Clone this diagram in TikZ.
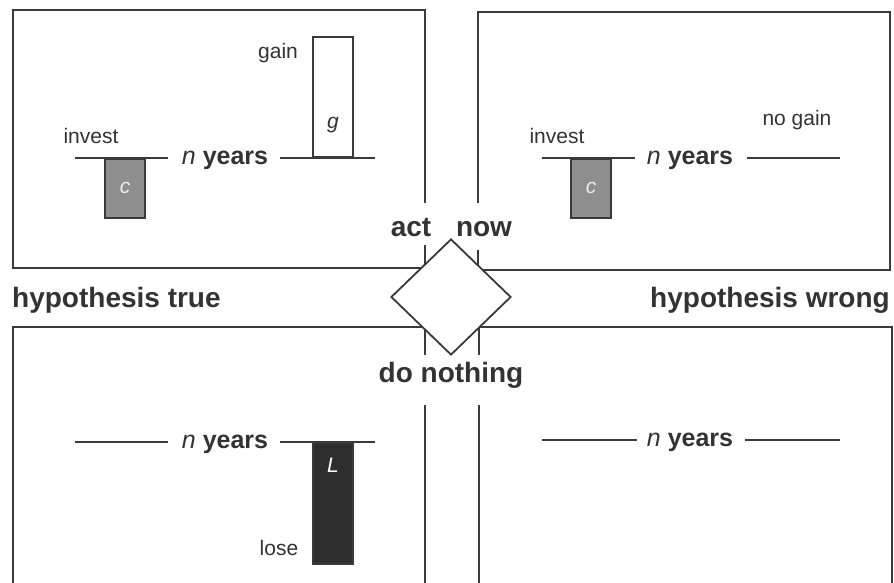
\documentclass[tikz,border=0pt]{standalone}
\usepackage{fontspec}
\setmainfont{Liberation Sans}
\usetikzlibrary{shapes.geometric}
\definecolor{linegray}{HTML}{3A3A3A}
\definecolor{textgray}{HTML}{333333}
\definecolor{barmid}{HTML}{8E8E8E}
\definecolor{bardark}{HTML}{2E2E2E}
\begin{document}
\begin{tikzpicture}[x=1pt,y=-1pt,
  ln/.style={draw=linegray,line width=1.8pt},
  big/.style={font=\fontsize{28}{32}\selectfont\bfseries, text=textgray, inner sep=0pt, anchor=base},
  yrs/.style={font=\fontsize{25}{30}\selectfont, text=textgray, inner sep=0pt, anchor=base},
  small/.style={font=\fontsize{21}{25}\selectfont, text=textgray, inner sep=0pt, anchor=base},
  barlabel/.style={font=\fontsize{21}{25}\selectfont\itshape, inner sep=0pt, anchor=base},
  bar/.style={draw=linegray, line width=1.8pt, minimum width=40pt, inner sep=0pt},
]
\useasboundingbox (0,0) rectangle (894,582);
\clip (0,0) rectangle (894,582);

% panels
\draw[ln] (425,203) -- (425,10) -- (13,10) -- (13,268) -- (425,268) -- (425,245);
\draw[ln] (478,203) -- (478,12) -- (890,12) -- (890,270) -- (478,270) -- (478,250);
\draw[ln] (425,355) -- (425,327) -- (13,327) -- (13,600);
\draw[ln] (425,405) -- (425,600);
\draw[ln] (479,355) -- (479,327) -- (892,327) -- (892,600);
\draw[ln] (479,405) -- (479,600);

% decision diamond
\node[diamond, draw=linegray, line width=1.8pt, fill=white, aspect=1,
      minimum width=120pt, minimum height=116pt, inner sep=0pt] (dec) at (451,297) {};
\node[big] (act) at (411,236) {act};
\node[big] (now) at (484,236) {now};
\node[big] (donothing) at (451,382) {do nothing};
\node[big, anchor=base west] (htrue) at (12,307) {hypothesis true};
\node[big, anchor=base east] (hwrong) at (890,307) {hypothesis wrong};

% top-left panel
\coordinate (tlA) at (75,158); \coordinate (tlB) at (168,158);
\coordinate (tlC) at (280,158); \coordinate (tlD) at (375,158);
\draw[ln] (tlA) -- (tlB);
\draw[ln] (tlC) -- (tlD);
\node[yrs] (tly) at (225,164) {\textit{n} \textbf{years}};
\node[bar, fill=barmid, minimum height=59pt, anchor=north,
      font=\fontsize{21}{25}\selectfont\itshape, text=white!85!gray] (tlc) at (125,158) {c};
\node[small] (tlinv) at (91,143) {invest};
\node[bar, fill=white, minimum height=120pt, anchor=south] (tlg) at (333,158) {};
\node[barlabel, text=textgray] (tlgl) at (333,128) {g};
\node[small] (tlgain) at (278,58) {gain};

% top-right panel
\coordinate (trA) at (542,158); \coordinate (trB) at (635,158);
\coordinate (trC) at (747,158); \coordinate (trD) at (840,158);
\draw[ln] (trA) -- (trB);
\draw[ln] (trC) -- (trD);
\node[yrs] (try) at (690,164) {\textit{n} \textbf{years}};
\node[bar, fill=barmid, minimum height=59pt, anchor=north,
      font=\fontsize{21}{25}\selectfont\itshape, text=white!85!gray] (trc) at (591,158) {c};
\node[small] (trinv) at (557,143) {invest};
\node[small] (trnogain) at (797,125) {no gain};

% bottom-left panel
\coordinate (blA) at (75,442); \coordinate (blB) at (168,442);
\coordinate (blC) at (280,442); \coordinate (blD) at (375,442);
\draw[ln] (blA) -- (blB);
\draw[ln] (blC) -- (blD);
\node[yrs] (bly) at (225,448) {\textit{n} \textbf{years}};
\node[bar, fill=bardark, minimum height=121pt, anchor=north] (blL) at (333,442) {};
\node[barlabel, text=white] (blLl) at (333,472) {L};
\node[small] (bllose) at (279,555) {lose};

% bottom-right panel
\coordinate (brA) at (542,440); \coordinate (brB) at (637,440);
\coordinate (brC) at (745,440); \coordinate (brD) at (840,440);
\draw[ln] (brA) -- (brB);
\draw[ln] (brC) -- (brD);
\node[yrs] (bry) at (690,446) {\textit{n} \textbf{years}};
\end{tikzpicture}
\end{document}
